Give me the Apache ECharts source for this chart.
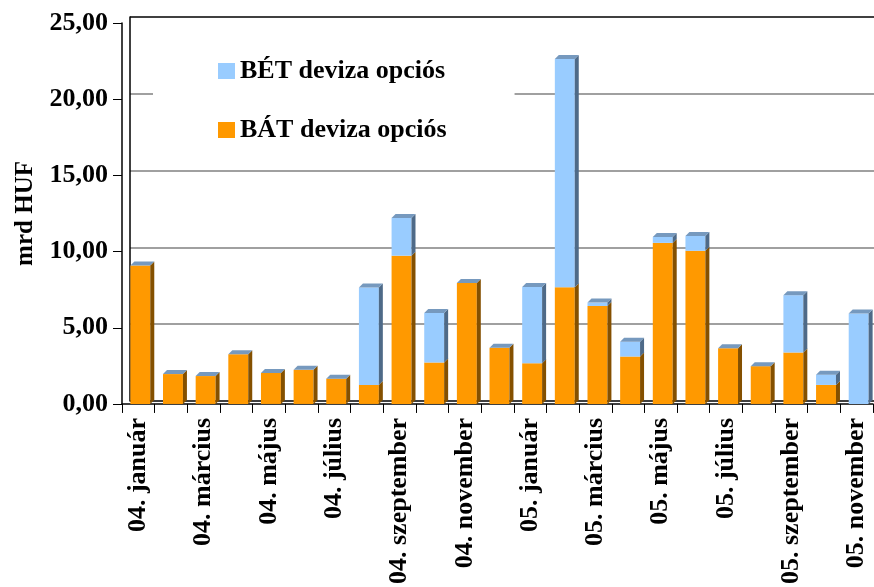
<!DOCTYPE html>
<html>
<head>
<meta charset="utf-8">
<script src="https://cdn.jsdelivr.net/npm/echarts@6/dist/echarts.min.js"></script>
<style>
  html, body { margin: 0; padding: 0; background: #fff; }
  #chart { width: 874px; height: 587px; }
</style>
</head>
<body>
<div id="chart"></div>
<script>
// === adatok ===
const months = [
  '04. január', '04. február', '04. március', '04. április', '04. május', '04. június',
  '04. július', '04. augusztus', '04. szeptember', '04. október', '04. november', '04. december',
  '05. január', '05. február', '05. március', '05. április', '05. május', '05. június',
  '05. július', '05. augusztus', '05. szeptember', '05. október', '05. november'
]
// BÁT deviza opciós (alsó, narancs)
const bat = [9.08, 1.96, 1.83, 3.26, 2.03, 2.24, 1.66, 1.25, 9.73, 2.72, 7.94, 3.68,
  2.67, 7.66, 6.43, 3.11, 10.57, 10.05, 3.65, 2.48, 3.37, 1.25, 0]
// BÉT deviza opciós (felső, világoskék)
const bet = [0, 0, 0, 0, 0, 0, 0, 6.39, 2.48, 3.25, 0, 0,
  5.01, 14.97, 0.22, 0.97, 0.39, 0.97, 0, 0, 3.77, 0.67, 5.93]
const yTicks = [0, 5, 10, 15, 20, 25]

const FONT = "'Liberation Serif', 'Times New Roman', serif"
const fmt = v => v.toFixed(2).replace('.', ',')

// 3D-s oszlopdarab: elülső lap + oldallap + (ha legfelső) tetőlap
const makeRender = (front, side) => (params, api) => {
  const i = api.value(0), lo = api.value(1), hi = api.value(2), isTop = api.value(3)
  if (hi <= lo) return
  const b = api.coord([i, lo])
  const t = api.coord([i, hi])
  const w = api.size([1, 0])[0] * 0.61
  const x0 = b[0] - w * 0.4, x1 = x0 + w
  const dx = 4, dy = 4
  const children = [
    { type: 'rect', shape: { x: x0, y: t[1], width: w, height: b[1] - t[1] }, style: { fill: front } },
    { type: 'polygon', shape: { points: [[x1, t[1]], [x1 + dx, t[1] - dy], [x1 + dx, b[1] - dy], [x1, b[1]]] }, style: { fill: side } }
  ]
  if (isTop) {
    children.push({ type: 'polygon', shape: { points: [[x0, t[1]], [x0 + dx, t[1] - dy], [x1 + dx, t[1] - dy], [x1, t[1]]] }, style: { fill: '#7699BE' } })
  }
  return { type: 'group', children }
}

const chart = echarts.init(document.getElementById('chart'))
chart.setOption({
  animation: false,
  backgroundColor: '#fff',
  legend: {
    data: ['BÉT deviza opciós', 'BÁT deviza opciós'],
    orient: 'vertical',
    left: 153,
    top: 43,
    padding: [15, 68, 15, 65],
    backgroundColor: '#fff',
    icon: 'rect',
    itemWidth: 17,
    itemHeight: 16,
    itemGap: 33,
    textStyle: { fontFamily: FONT, fontWeight: 'bold', fontSize: 26, color: '#000', lineHeight: 26 }
  },
  grid: [
    { left: 122, right: 1, top: 23, bottom: 180 },
    { left: 130, right: 0, top: 17, bottom: 186 }
  ],
  xAxis: [
    {
      gridIndex: 0,
      type: 'category',
      data: months,
      axisLine: { lineStyle: { color: '#000', width: 1.5 } },
      axisTick: { show: true, interval: 0, length: 9, lineStyle: { color: '#000' } },
      axisLabel: {
        interval: 1, rotate: 90, margin: 14,
        fontFamily: FONT, fontWeight: 'bold', fontSize: 26, color: '#000'
      }
    },
    { gridIndex: 1, type: 'category', data: months, show: false }
  ],
  yAxis: [
    {
      gridIndex: 0,
      type: 'value',
      min: 0, max: 25, interval: 5,
      name: 'mrd HUF',
      nameLocation: 'middle',
      nameGap: 84,
      nameTextStyle: { fontFamily: FONT, fontWeight: 'bold', fontSize: 25, color: '#000' },
      axisLine: { show: true, lineStyle: { color: '#000', width: 1.5 } },
      axisTick: { show: true, length: 9, lineStyle: { color: '#000' } },
      axisLabel: {
        margin: 14, formatter: fmt,
        fontFamily: FONT, fontWeight: 'bold', fontSize: 26, color: '#000'
      },
      splitLine: { show: false }
    },
    {
      gridIndex: 1,
      type: 'value',
      min: 0, max: 25, interval: 5,
      axisLine: { show: true, lineStyle: { color: '#000', width: 1.5 } },
      axisTick: { show: false },
      axisLabel: { show: false },
      splitLine: {
        show: true,
        lineStyle: { color: yTicks.map((v, k) => (k === 0 || k === yTicks.length - 1) ? '#000' : '#808080'), width: 1.5 }
      }
    }
  ],
  series: [
    {
      name: 'BÁT deviza opciós',
      type: 'custom',
      xAxisIndex: 0, yAxisIndex: 0,
      itemStyle: { color: '#FF9900' },
      renderItem: makeRender('#FF9900', '#845000'),
      encode: { x: 0, y: 2 },
      data: bat.map((v, i) => [i, 0, v, bet[i] > 0 ? 0 : 1]),
      z: 3
    },
    {
      name: 'BÉT deviza opciós',
      type: 'custom',
      xAxisIndex: 0, yAxisIndex: 0,
      itemStyle: { color: '#99CCFF' },
      renderItem: makeRender('#99CCFF', '#4E6A88'),
      encode: { x: 0, y: 2 },
      data: bet.map((v, i) => [i, bat[i], bat[i] + v, 1]),
      z: 3
    }
  ]
})
</script>
</body>
</html>
